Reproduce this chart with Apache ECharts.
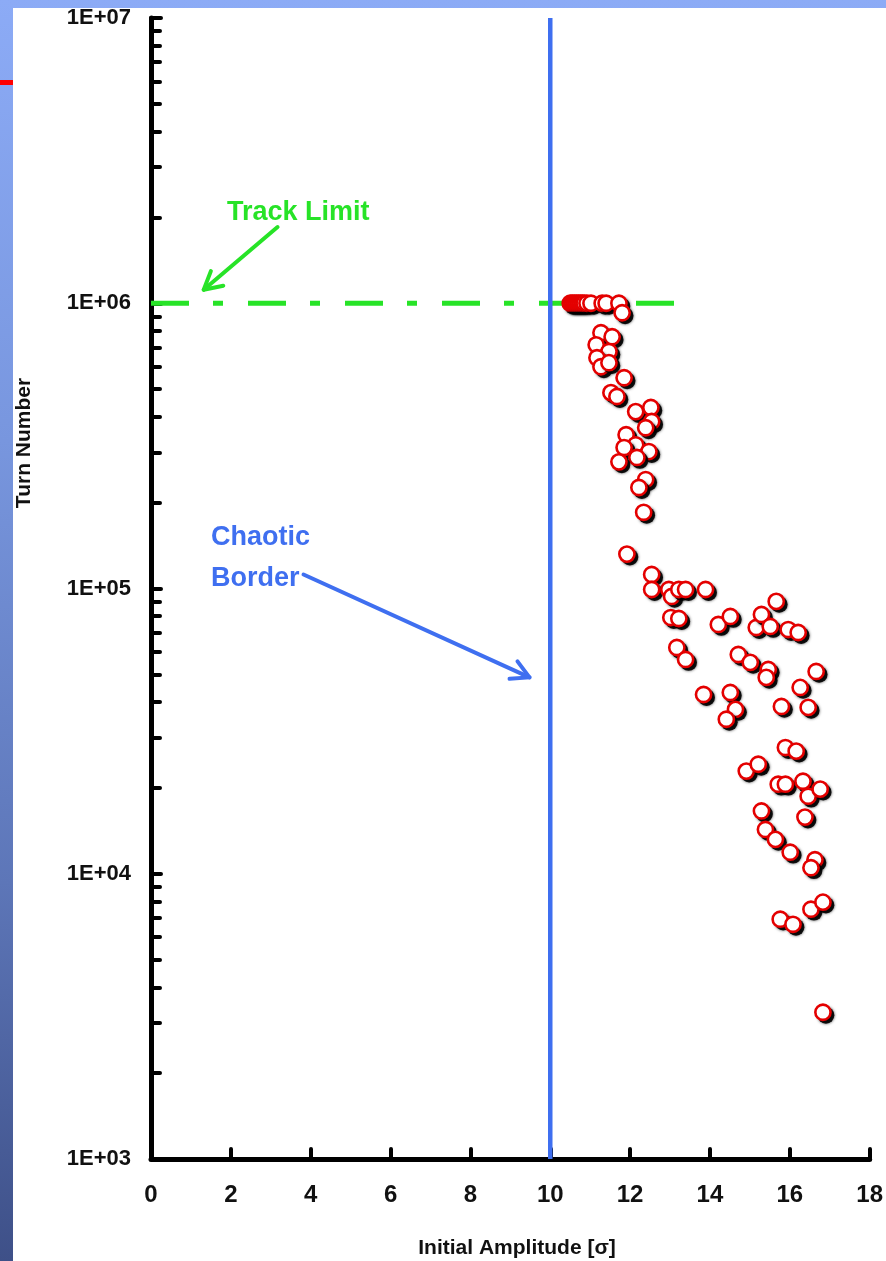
<!DOCTYPE html>
<html><head><meta charset="utf-8">
<script src="https://cdn.jsdelivr.net/npm/echarts@6/dist/echarts.min.js"></script>
<style>
html,body{margin:0;padding:0;width:886px;height:1261px;overflow:hidden;}
body{background:linear-gradient(to bottom,#8cabf6 0%,#7896de 35%,#5d76b8 70%,#3e5088 100%);}
#frame{position:absolute;left:13px;top:8px;width:873px;height:1253px;background:#fff;}
#redmark{position:absolute;left:0;top:80px;width:13px;height:5px;background:#f00;}
#chart{position:absolute;left:0;top:0;width:886px;height:1261px;}
</style></head><body>
<div id="frame"></div><div id="redmark"></div><div id="chart"></div>
<script>
// ---- data ----
const xTicks = [0, 2, 4, 6, 8, 10, 12, 14, 16, 18];
const yDecades = [1e3, 1e4, 1e5, 1e6, 1e7];
const trackLimit = 1e6;
const trackLimitAmp = [0, 13.2];
const chaoticBorder = 10;
// particles that survived to the track limit
const ampAtLimit = [10.50, 10.55, 10.60, 10.65, 10.70, 10.75, 10.80, 10.85, 10.92, 11.02, 11.30, 11.40, 11.72];
const turnsAtLimit = [1e6, 1e6, 1e6, 1e6, 1e6, 1e6, 1e6, 1e6, 1e6, 1e6, 1e6, 1e6, 1e6];
// particles lost before the limit
const amp = [11.80, 11.27, 11.55, 11.15, 11.47, 11.17, 11.27, 11.47, 11.85, 11.52, 11.67, 12.14, 12.52, 12.54, 12.39, 11.90, 12.14, 11.85, 12.47, 12.17, 11.72, 12.39, 12.22, 12.34, 11.92, 12.54, 12.54, 12.97, 13.04, 13.22, 13.39, 13.89, 13.02, 13.22, 13.17, 13.39, 13.84, 14.21, 14.51, 14.51, 14.64, 14.41, 14.71, 15.01, 15.46, 15.41, 15.16, 15.29, 15.51, 15.66, 15.96, 16.21, 16.26, 16.46, 16.66, 15.79, 15.89, 16.16, 14.91, 15.21, 15.71, 15.89, 16.33, 16.46, 16.76, 15.29, 16.38, 15.39, 15.64, 16.01, 16.63, 16.53, 16.53, 16.83, 15.76, 16.08, 16.83];
const turns = [9.26e5, 7.88e5, 7.63e5, 7.15e5, 6.77e5, 6.44e5, 5.99e5, 6.19e5, 5.48e5, 4.86e5, 4.71e5, 4.17e5, 4.31e5, 3.85e5, 3.66e5, 3.46e5, 3.19e5, 3.12e5, 3.02e5, 2.88e5, 2.78e5, 2.41e5, 2.26e5, 1.85e5, 1.32e5, 1.12e5, 9.92e4, 9.92e4, 9.38e4, 9.92e4, 9.92e4, 9.92e4, 7.91e4, 7.85e4, 6.21e4, 5.64e4, 4.25e4, 7.48e4, 7.98e4, 4.32e4, 3.77e4, 3.48e4, 5.87e4, 5.51e4, 5.20e4, 4.88e4, 7.30e4, 8.11e4, 7.36e4, 9.01e4, 7.18e4, 7.01e4, 4.50e4, 3.83e4, 5.12e4, 3.86e4, 2.77e4, 2.69e4, 2.29e4, 2.42e4, 2.06e4, 2.06e4, 2.11e4, 1.87e4, 1.98e4, 1.66e4, 1.58e4, 1.43e4, 1.32e4, 1.19e4, 1.12e4, 1.05e4, 7.51e3, 7.95e3, 6.93e3, 6.65e3, 3.27e3];
// annotation anchors (data space)
const trackText = {text: 'Track Limit', at: [3.69, 2.09e6]};
const trackArrow = [[3.17, 1.85e6], [1.32, 1.115e6]];
const chaoticText = [{text: 'Chaotic', at: [1.50, 1.52e5]}, {text: 'Border', at: [1.50, 1.094e5]}];
const chaoticArrow = [[3.82, 1.12e5], [9.48, 4.88e4]];

const FONT = '"Liberation Sans", Arial, Helvetica, sans-serif';
const GREEN = '#27e327', BLUE = '#3f6ff0';

const chart = echarts.init(document.getElementById('chart'), null, {renderer: 'canvas'});

// each marker = blurred black shadow offset to lower right + white disc with red rim
function renderMarker(params, api) {
  const p = api.coord([api.value(0), api.value(1)]);
  return {
    type: 'group',
    children: [
      {type: 'circle', shape: {cx: p[0] + 3, cy: p[1] + 3, r: 8.4},
        style: {fill: 'rgba(0,0,0,0.9)', shadowBlur: 3, shadowColor: 'rgba(0,0,0,0.8)'}},
      {type: 'circle', shape: {cx: p[0], cy: p[1], r: 7.6},
        style: {fill: '#ffffff', stroke: '#e40000', lineWidth: 2.6}}
    ]
  };
}

chart.setOption({
  animation: false,
  backgroundColor: 'transparent',
  grid: {left: 151, right: 14, top: 18, bottom: 102, containLabel: false},
  xAxis: {
    type: 'value', min: 0, max: 18, interval: 2,
    axisLine: {show: true, onZero: false, lineStyle: {color: '#000', width: 5, cap: 'round'}},
    axisTick: {show: true, inside: true, length: 10, lineStyle: {color: '#000', width: 4, cap: 'round'}},
    splitLine: {show: false},
    axisLabel: {margin: 24, color: '#111', fontSize: 24, fontWeight: 'bold', fontFamily: FONT,
      formatter: v => xTicks.includes(v) ? String(v) : ''}
  },
  yAxis: {
    type: 'log', logBase: 10, min: yDecades[0], max: yDecades[yDecades.length - 1], splitNumber: 4,
    axisLine: {show: true, onZero: false, lineStyle: {color: '#000', width: 5, cap: 'round'}},
    axisTick: {show: true, inside: true, length: 10, lineStyle: {color: '#000', width: 4, cap: 'round'}},
    minorTick: {show: true, splitNumber: 9, length: 9, lineStyle: {color: '#000', width: 4, cap: 'round'}},
    splitLine: {show: false}, minorSplitLine: {show: false},
    axisLabel: {margin: 20, color: '#111', fontSize: 22, fontWeight: 'bold', fontFamily: FONT,
      formatter: v => '1E+' + String(Math.round(Math.log10(v))).padStart(2, '0')}
  },
  series: [
    {type: 'line', data: trackLimitAmp.map(a => [a, trackLimit]), symbol: 'none', silent: true,
      lineStyle: {color: GREEN, width: 5, type: [38, 24, 10, 25]}, z: 1},
    {type: 'line', data: [[chaoticBorder, yDecades[0]], [chaoticBorder, yDecades[yDecades.length - 1]]],
      symbol: 'none', silent: true, lineStyle: {color: BLUE, width: 4.5}, z: 2},
    {type: 'custom', renderItem: renderMarker, data: ampAtLimit.map((a, i) => [a, turnsAtLimit[i]]), z: 3, silent: true},
    {type: 'custom', renderItem: renderMarker, data: amp.map((a, i) => [a, turns[i]]), z: 3, silent: true}
  ]
});

const px = d => chart.convertToPixel({gridIndex: 0}, d);
function arrow(a, b, color) {
  const A = px(a), B = px(b);
  const ang = Math.atan2(B[1] - A[1], B[0] - A[0]);
  const L = 20, w = 0.5;
  const h1 = [B[0] - L * Math.cos(ang - w), B[1] - L * Math.sin(ang - w)];
  const h2 = [B[0] - L * Math.cos(ang + w), B[1] - L * Math.sin(ang + w)];
  return [
    {type: 'polyline', shape: {points: [A, B]}, style: {stroke: color, lineWidth: 4, lineCap: 'round', fill: null}, z: 10},
    {type: 'polyline', shape: {points: [h1, B, h2]}, style: {stroke: color, lineWidth: 4, lineCap: 'round', lineJoin: 'round', fill: null}, z: 10}
  ];
}
function label(t, color, align) {
  const p = px(t.at);
  return {type: 'text', x: p[0], y: p[1] + 1, z: 10,
    style: {text: t.text, fill: color, fontSize: 27, fontWeight: 'bold', fontFamily: FONT, align: align, verticalAlign: 'middle'}};
}
const g = [];
g.push(label(trackText, GREEN, 'center'));
g.push(...arrow(trackArrow[0], trackArrow[1], GREEN));
chaoticText.forEach(t => g.push(label(t, BLUE, 'left')));
g.push(...arrow(chaoticArrow[0], chaoticArrow[1], BLUE));
// axis titles
g.push({type: 'text', x: 24, y: 443, rotation: Math.PI / 2, z: 10,
  style: {text: 'Turn Number', fill: '#111', fontSize: 21, fontWeight: 'bold', fontFamily: FONT, align: 'center', verticalAlign: 'middle'}});
g.push({type: 'text', x: 517, y: 1248, z: 10,
  style: {text: 'Initial Amplitude [σ]', fill: '#111', fontSize: 21, fontWeight: 'bold', fontFamily: FONT, align: 'center', verticalAlign: 'middle'}});
chart.setOption({graphic: g});
</script>
</body></html>
